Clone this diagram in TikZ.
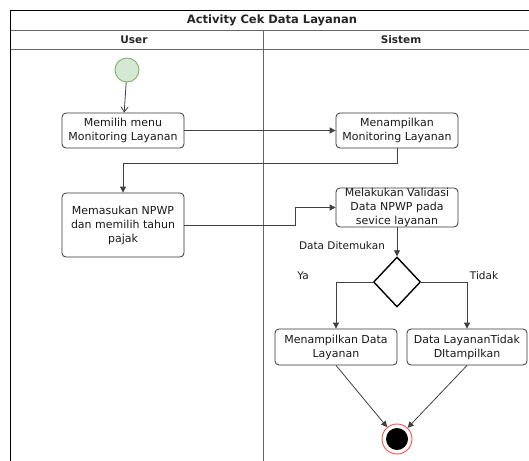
\documentclass[tikz,border=0pt]{standalone}
\usepackage{fontspec}
\setmainfont{DejaVu Sans}
\usetikzlibrary{arrows.meta,shapes.geometric}
\definecolor{startfill}{HTML}{D5E8D4}
\definecolor{startdraw}{HTML}{82B366}
\begin{document}
\begin{tikzpicture}[x=1pt,y=-1pt,
  act/.style={draw=black!80, rounded corners=4pt, line width=0.8pt, align=center,
    font=\fontsize{11}{14}\selectfont, text=black!90, inner sep=0pt},
  flow/.style={draw=black!75, line width=0.8pt, -{Triangle[length=6pt,width=6pt]}},
  openflow/.style={draw=black!75, line width=0.8pt, -{Straight Barb[length=5pt,width=7pt]}},
  lane/.style={draw=black!60, line width=0.8pt},
  lbl/.style={font=\fontsize{10.5}{12}\selectfont, text=black!90},
  hdr/.style={font=\bfseries\fontsize{11.5}{12}\selectfont, text=black!85}]
\useasboundingbox (0,0) rectangle (529,460);
\clip (0,0) rectangle (529,460);
% swimlane frame
\draw[lane] (10,30) -- (540,30);
\draw[lane] (10,49) -- (540,49);
\draw[lane] (263,30) -- (263,470);
\draw[draw=black, line width=0.9pt] (540,10) -- (10,10) -- (10,470);
\node[hdr] (title) at (272,20) {Activity Cek Data Layanan};
\node[hdr, font=\bfseries\fontsize{10.5}{12}\selectfont] (huser) at (134,40) {User};
\node[hdr, font=\bfseries\fontsize{10.5}{12}\selectfont] (hsis) at (401,40) {Sistem};
% nodes
\node[circle, draw=startdraw, fill=startfill, line width=0.9pt, minimum size=24pt, inner sep=0pt] (start) at (127,70) {};
\node[act, minimum width=122pt, minimum height=35pt] (b1) at (123,130.5) {Memilih menu\\Monitoring Layanan};
\node[act, minimum width=122pt, minimum height=35pt] (b2) at (397,130.5) {Menampilkan\\Monitoring Layanan};
\node[act, minimum width=122pt, minimum height=64pt] (b3) at (123,225) {Memasukan NPWP\\dan memilih tahun\\pajak};
\node[act, minimum width=122pt, minimum height=39pt] (b4) at (397,207.5) {Melakukan Validasi\\Data NPWP pada\\sevice layanan};
\node[diamond, draw=black, line width=1.4pt, minimum width=47pt, minimum height=50pt, inner sep=0pt] (dia) at (397,282) {};
\node[act, minimum width=122pt, minimum height=36pt] (b5) at (336,347) {Menampilkan Data\\Layanan};
\node[act, minimum width=120pt, minimum height=36pt] (b6) at (467,347) {Data LayananTidak\\DItampilkan};
\node[circle, draw=red!70, fill=white, line width=0.9pt, minimum size=30pt, inner sep=0pt] (end) at (397,439) {};
\fill[black] (end.center) circle (11);
\coordinate (k1) at (295,225);
% labels
\node[lbl] (lfound) at (342,246) {Data Ditemukan};
\node[lbl] (lya) at (303,276) {Ya};
\node[lbl] (ltidak) at (484,276) {Tidak};
% connectors
\draw[openflow] (start) -- (b1);
\draw[flow] (b1) -- (b2);
\draw[flow] (b2.south) -- ++(0,15) -| (b3.north);
\draw[flow] (b3.east) -- (k1) |- (b4.west);
\draw[flow] (b4.south) -- (dia.north);
\draw[flow] (dia.west) -| (b5.north);
\draw[flow] (dia.east) -| (b6.north);
\draw[flow] (b5.south) -- (end);
\draw[flow] (b6.south) -- (end);
\end{tikzpicture}
\end{document}
